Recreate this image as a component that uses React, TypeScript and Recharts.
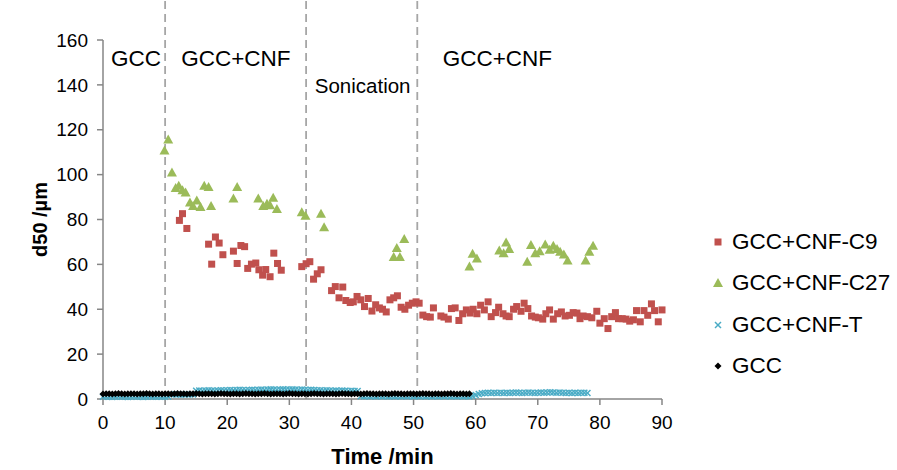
import React from 'react';
import {
  ScatterChart,
  Scatter,
  XAxis,
  YAxis,
  ReferenceLine,
  ReferenceDot,
  Legend,
} from 'recharts';

// time /min, d50 /µm
const c9Points: [number, number][] = [
  [12.3, 79.6], [12.8, 82.6], [13.5, 76], [17.0, 69], [17.5, 60.1], [18.1, 72.2],
  [18.7, 69.5], [19.3, 64.3], [21.0, 65.9], [21.6, 60.4], [22.2, 68.4], [22.8, 67.9],
  [23.3, 58.2], [23.9, 60.1], [24.6, 60.6], [25.1, 57.6], [25.7, 55.2], [26.2, 57.7],
  [26.9, 54.5], [27.5, 65], [28.1, 60.4], [28.7, 57.4], [32.0, 59], [32.7, 60.3],
  [33.3, 61.2], [33.9, 53.4], [34.5, 55.8], [35.1, 57.6], [36.8, 48.3], [37.4, 50.1],
  [38.0, 45.1], [38.6, 49.9], [39.1, 43.9], [39.8, 43], [40.3, 43.3], [40.9, 45.7],
  [41.5, 44.2], [42.1, 41.2], [42.7, 44.8], [43.3, 39.2], [43.9, 42], [44.5, 40.6],
  [45.0, 40], [45.6, 38.8], [46.2, 44.2], [46.8, 45.1], [47.4, 46], [48.0, 40.9],
  [48.6, 40], [49.2, 41.8], [49.8, 42.7], [50.4, 43.3], [50.9, 42.7], [51.5, 37.4],
  [52.1, 36.7], [52.7, 36.5], [53.2, 40.6], [54.4, 37], [54.9, 36.5], [55.6, 35.6],
  [56.1, 40.3], [56.7, 40.6], [57.3, 35], [57.9, 38], [58.5, 39.7], [59.1, 38.3],
  [59.6, 40], [60.2, 38], [60.8, 41.8], [61.4, 39.7], [62.0, 43.3], [62.5, 36.7],
  [63.2, 38.5], [63.7, 40.9], [64.4, 38], [64.9, 37], [65.4, 36.7], [66.1, 40],
  [66.6, 41.2], [67.3, 39.1], [67.8, 42.7], [68.4, 40.3], [69.0, 37], [69.6, 36.5],
  [70.1, 36.2], [70.8, 35.6], [71.3, 38], [71.9, 39.7], [72.5, 35.6], [73.2, 38],
  [73.8, 38.8], [74.4, 37], [75.1, 37.3], [75.7, 38.5], [76.3, 38.3], [76.8, 35.8],
  [77.3, 37], [78.0, 36.7], [78.7, 36.2], [79.5, 39.1], [80.0, 33.8], [80.7, 35.8],
  [81.3, 31.4], [81.9, 36.7], [82.5, 38.5], [83.0, 35.8], [83.6, 35.8], [84.2, 35.6],
  [84.8, 34.7], [85.4, 35.3], [85.9, 39.4], [86.5, 34.4], [87.1, 39.4], [87.7, 37.3],
  [88.3, 42.4], [88.8, 39.4], [89.4, 34.4], [90.0, 39.7],
];

const c27Points: [number, number][] = [
  [9.9, 110.8], [10.5, 115.6], [11.1, 101], [11.7, 94], [12.2, 95], [12.8, 93],
  [13.3, 92], [14.0, 87.6], [14.5, 86], [15.1, 88.5], [15.7, 85.6], [16.3, 95],
  [17.0, 94.5], [17.4, 86], [21.0, 89.4], [21.6, 94.5], [25.0, 89.4], [25.8, 86],
  [26.4, 87], [26.9, 86.4], [27.4, 89.7], [28.0, 84.7], [32.0, 83.2], [32.6, 81.7],
  [35.1, 82.6], [35.6, 76.6], [46.8, 63.3], [47.3, 67.3], [47.8, 63.3], [48.5, 71.3],
  [59.0, 59], [59.5, 64.7], [60.2, 62.6], [63.8, 66.2], [64.5, 65], [64.9, 69.8],
  [65.4, 66.8], [68.3, 61.2], [68.9, 68.6], [69.6, 65], [70.3, 65.9], [71.2, 68.9],
  [71.9, 66.5], [72.5, 68.3], [73.1, 66.8], [73.6, 65.6], [74.2, 64.4], [74.8, 61.7],
  [77.7, 61.7], [78.3, 65.6], [78.9, 68.3],
];

// GCC+CNF-T and GCC were logged every 30 s, starting at t = 0
const sampleStep = 0.5;

const tValues = [
  1.0, 1.1, 1.0, 0.9, 1.0, 1.1, 1.0, 1.0, 0.9, 1.0,
  1.1, 1.0, 1.0, 0.9, 1.0, 1.1, 1.0, 1.0, 1.1, 1.0,
  1.0, 1.1, 2.0, 2.1, 2.0, 1.9, 2.0, 2.1, 2.0, 2.0,
  3.7, 3.8, 3.7, 3.8, 3.9, 3.8, 3.7, 3.8, 3.9, 3.8,
  3.9, 4.0, 3.9, 4.0, 4.1, 4.0, 3.9, 4.0, 4.1, 4.0,
  4.1, 4.2, 4.1, 4.2, 4.3, 4.2, 4.1, 4.2, 4.3, 4.2,
  4.2, 4.3, 4.2, 4.1, 4.2, 4.1, 4.0, 4.1, 4.0, 3.9,
  3.9, 3.8, 3.9, 3.8, 3.7, 3.8, 3.7, 3.8, 3.7, 3.6,
  3.7, 3.6, 3.6, 1.2, 1.1, 1.2, 1.1, 1.2, 1.1, 1.2,
  1.1, 1.2, 1.1, 1.2, 1.1, 1.2, 1.1, 1.2, 1.1, 1.2,
  1.1, 1.2, 1.1, 1.2, 1.1, 1.2, 1.1, 1.2, 1.1, 1.2,
  1.1, 1.2, 1.1, 1.2, 1.1, 1.2, 1.1, 1.2, 1.1, 1.3,
  1.8, 2.2, 2.6, 2.7, 2.8, 2.7, 2.8, 2.7, 2.8, 2.7,
  2.8, 2.7, 2.8, 2.9, 2.8, 2.7, 2.8, 2.9, 2.8, 2.7,
  2.8, 2.9, 2.8, 2.9, 3.0, 2.9, 2.8, 2.9, 2.8, 2.7,
  2.8, 2.7, 2.8, 2.7, 2.8, 2.8, 2.7,
];

const gccValues = [
  2.2, 2.3, 2.3, 2.2, 2.3, 2.4, 2.3, 2.2, 2.3, 2.3,
  2.3, 2.2, 2.3, 2.3, 2.4, 2.3, 2.2, 2.3, 2.3, 2.2,
  2.3, 2.3, 2.2, 2.3, 2.4, 2.3, 2.3, 2.2, 2.3, 2.3,
  2.4, 2.3, 2.2, 2.3, 2.3, 2.3, 2.2, 2.3, 2.4, 2.3,
  2.3, 2.2, 2.3, 2.3, 2.2, 2.3, 2.4, 2.3, 2.3, 2.2,
  2.3, 2.3, 2.4, 2.3, 2.2, 2.3, 2.3, 2.3, 2.2, 2.3,
  2.4, 2.3, 2.3, 2.2, 2.3, 2.3, 2.2, 2.3, 2.4, 2.3,
  2.3, 2.2, 2.3, 2.3, 2.3, 2.2, 2.3, 2.4, 2.3, 2.3,
  2.2, 2.3, 2.3, 2.2, 2.3, 2.4, 2.3, 2.3, 2.2, 2.3,
  2.3, 2.3, 2.2, 2.3, 2.4, 2.3, 2.3, 2.2, 2.3, 2.3,
  2.3, 2.2, 2.3, 2.4, 2.3, 2.3, 2.2, 2.3, 2.3, 2.2,
  2.3, 2.3, 2.4, 2.3, 2.2, 2.3, 2.3, 2.2, 2.3,
];

const xTicks = [0, 10, 20, 30, 40, 50, 60, 70, 80, 90];
const yTicks = [0, 20, 40, 60, 80, 100, 120, 140, 160];

// stage boundaries (min)
const stageBreaks = [10, 32.7, 50.6];
const stageLabels = [
  { text: 'GCC', x: 5.3, y: 151.8, size: 22.5 },
  { text: 'GCC+CNF', x: 21.4, y: 151.8, size: 22.5 },
  { text: 'Sonication', x: 41.8, y: 139.4, size: 20.5 },
  { text: 'GCC+CNF', x: 63.5, y: 151.8, size: 22.5 },
];

const C9 = '#c0504d';
const C27 = '#9bbb59';
const T = '#4bacc6';
const GCC = '#000000';

const toXY = (pts: [number, number][]) => pts.map(([x, y]) => ({ x, y }));
const sampled = (vals: number[]) => vals.map((y, i) => ({ x: i * sampleStep, y }));

const SquareMark = ({ cx, cy }: any) => (
  <rect x={cx - 3.5} y={cy - 3.5} width={7} height={7} fill={C9} />
);
const TriangleMark = ({ cx, cy }: any) => (
  <polygon points={`${cx},${cy - 5} ${cx + 5},${cy + 4} ${cx - 5},${cy + 4}`} fill={C27} />
);
const CrossMark = ({ cx, cy }: any) => (
  <g stroke={T} strokeWidth={1.5}>
    <line x1={cx - 3} y1={cy - 3} x2={cx + 3} y2={cy + 3} />
    <line x1={cx - 3} y1={cy + 3} x2={cx + 3} y2={cy - 3} />
  </g>
);
const DiamondMark = ({ cx, cy }: any) => (
  <polygon points={`${cx},${cy - 3.5} ${cx + 3.5},${cy} ${cx},${cy + 3.5} ${cx - 3.5},${cy}`} fill={GCC} />
);

const legendItems = [
  { name: 'GCC+CNF-C9', Mark: SquareMark },
  { name: 'GCC+CNF-C27', Mark: TriangleMark },
  { name: 'GCC+CNF-T', Mark: CrossMark },
  { name: 'GCC', Mark: DiamondMark },
];

const LegendBox = () => (
  <div>
    {legendItems.map(({ name, Mark }) => (
      <div key={name} style={{ display: 'flex', alignItems: 'center', height: 41.5 }}>
        <svg width={12} height={12} style={{ marginRight: 8 }}>
          <Mark cx={6} cy={6} />
        </svg>
        <span style={{ fontSize: 22.5, color: '#000', whiteSpace: 'nowrap' }}>{name}</span>
      </div>
    ))}
  </div>
);

const axisColor = '#868686';
const tickStyle = { fontSize: 19, fill: '#000' };

export default function App() {
  return (
    <div
      style={{
        position: 'absolute',
        left: 0,
        top: 0,
        width: 897,
        height: 470,
        background: '#fff',
        fontFamily: '"Liberation Sans", Arial, sans-serif',
      }}
    >
      <ScatterChart width={897} height={470} margin={{ top: 40, right: 235, bottom: 1, left: 33 }}>
        <XAxis
          type="number"
          dataKey="x"
          domain={[0, 90]}
          ticks={xTicks}
          height={70}
          tickSize={6}
          tickMargin={11}
          axisLine={{ stroke: axisColor, strokeWidth: 1.5 }}
          tickLine={{ stroke: axisColor, strokeWidth: 1.5 }}
          tick={tickStyle}
          label={{
            value: 'Time /min',
            position: 'insideBottom',
            offset: 5,
            style: { fontSize: 22, fontWeight: 'bold', fill: '#000' },
          }}
        />
        <YAxis
          type="number"
          dataKey="y"
          domain={[0, 160]}
          ticks={yTicks}
          width={70}
          tickSize={6}
          tickMargin={9}
          axisLine={{ stroke: axisColor, strokeWidth: 1.5 }}
          tickLine={{ stroke: axisColor, strokeWidth: 1.5 }}
          tick={tickStyle}
          label={{
            value: 'd50 /µm',
            angle: -90,
            position: 'insideLeft',
            offset: 7,
            style: { fontSize: 20, fontWeight: 'bold', fill: '#000', textAnchor: 'middle' },
          }}
        />
        {stageBreaks.map((t) => (
          <ReferenceLine
            key={t}
            segment={[{ x: t, y: 0 }, { x: t, y: 178 }]}
            ifOverflow="visible"
            stroke="#a6a6a6"
            strokeWidth={1.8}
            strokeDasharray="8 5"
          />
        ))}
        {stageLabels.map((l, i) => (
          <ReferenceDot
            key={i}
            x={l.x}
            y={l.y}
            r={0}
            fill="none"
            stroke="none"
            label={{ value: l.text, position: 'center', fill: '#000', fontSize: l.size }}
          />
        ))}
        <Scatter name="GCC+CNF-C9" data={toXY(c9Points)} shape={SquareMark} isAnimationActive={false} />
        <Scatter name="GCC+CNF-C27" data={toXY(c27Points)} shape={TriangleMark} isAnimationActive={false} />
        <Scatter name="GCC+CNF-T" data={sampled(tValues)} shape={CrossMark} isAnimationActive={false} />
        <Scatter name="GCC" data={sampled(gccValues)} shape={DiamondMark} isAnimationActive={false} />
        <Legend
          layout="horizontal"
          verticalAlign="middle"
          content={() => <LegendBox />}
          wrapperStyle={{ left: 712, top: 221, width: 185 }}
        />
      </ScatterChart>
    </div>
  );
}
